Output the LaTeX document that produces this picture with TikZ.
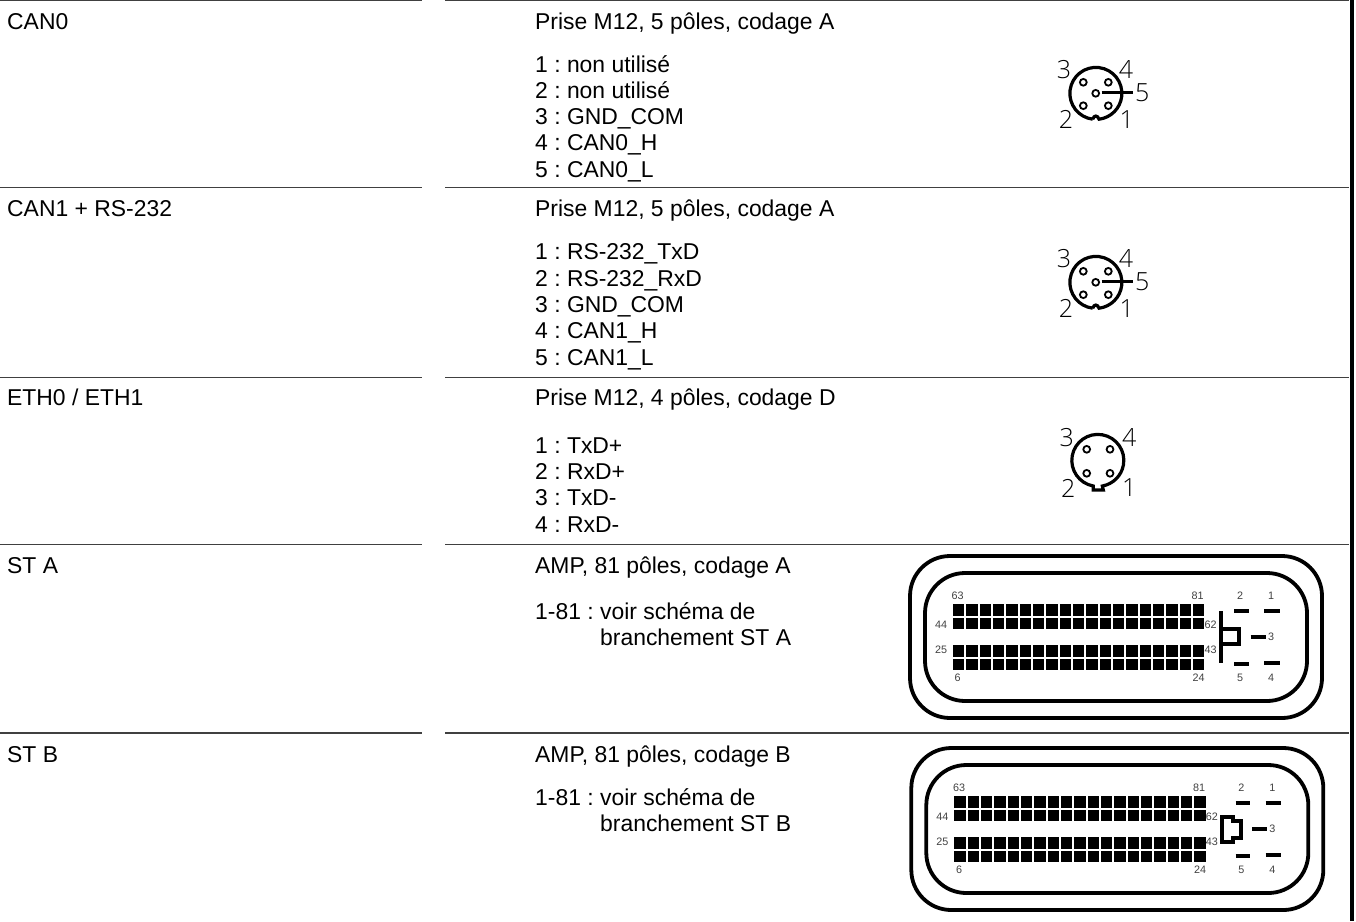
\documentclass[tikz,border=0pt]{standalone}
\usepackage{fontspec}
\setmainfont{Liberation Sans}
\newfontfamily\pinfont{Open Sans Light}
\frenchspacing
\definecolor{rulegray}{rgb}{0.25,0.25,0.25}
\tikzset{
	rowrule/.style={line width=1.3pt,color=rulegray},
	txt/.style={anchor=base west,inner sep=0pt,font=\fontsize{22.9}{25}\selectfont},
	pintxt/.style={inner sep=0pt,font=\pinfont\fontsize{25}{25}\selectfont},
	smalltxt/.style={inner sep=0pt,color=rulegray,font=\fontsize{10.8}{12}\selectfont},
	shell/.style={line width=3.8pt,rounded corners=40pt},
	blade/.style={line width=3.7pt},
	hole/.style={line width=1.8pt},
}
\begin{document}
\begin{tikzpicture}[line cap=butt,line join=miter,x=1pt,y=-1pt]
		\useasboundingbox (0,0) rectangle (1356,921);
		% table rules
		\foreach \y/\a in {0.2/r0,187.7/r1,377.7/r2,544.7/r3,733/r4}{
			\coordinate (\a l) at (0,\y);
			\coordinate (\a m) at (421.7,\y);
			\coordinate (\a n) at (445,\y);
			\coordinate (\a r) at (1348.5,\y);
			\draw [rowrule] (\a l) -- (\a m);
			\draw [rowrule] (\a n) -- (\a r);
		}
		\coordinate (bart) at (1351.8,0);
		\coordinate (barb) at (1351.8,921);
		\draw [line width=3.5pt] (bart) -- (barb);
		% left column
		\node [txt] (can0) at (7,29) {CAN0};
		\node [txt] (can1) at (7,216) {CAN1 + RS-232};
		\node [txt] (eth) at (7,405) {ETH0 / ETH1};
		\node [txt] (sta) at (7,573) {ST A};
		\node [txt] (stb) at (7,762) {ST B};
		% pin lists
		\node [txt] (can0t) at (535,29) {Prise M12, 5 pôles, codage A};
		\foreach \t [count=\i] in {1 : non utilisé,2 : non utilisé,3 : GND\_COM,4 : CAN0\_H,5 : CAN0\_L}
			\node [txt] (can0p\i) at (535,{45.7+26.3*\i}) {\t};
		\node [txt] (can1t) at (535,216) {Prise M12, 5 pôles, codage A};
		\foreach \t [count=\i] in {1 : RS-232\_TxD,2 : RS-232\_RxD,3 : GND\_COM,4 : CAN1\_H,5 : CAN1\_L}
			\node [txt] (can1p\i) at (535,{233.5+26.3*\i}) {\t};
		\node [txt] (etht) at (535,405) {Prise M12, 4 pôles, codage D};
		\foreach \t [count=\i] in {1 : TxD+,2 : RxD+,3 : TxD-,4 : RxD-}
			\node [txt] (ethp\i) at (535,{426.8+26.3*\i}) {\t};
		\node [txt] (stat) at (535,573) {AMP, 81 pôles, codage A};
		\node [txt] (stap) at (535,619) {1-81 : voir schéma de};
		\node [txt] (stap2) at (600,645) {branchement ST A};
		\node [txt] (stbt) at (535,762) {AMP, 81 pôles, codage B};
		\node [txt] (stbp) at (535,805) {1-81 : voir schéma de};
		\node [txt] (stbp2) at (600,831) {branchement ST B};
		% round M12 connectors, 5 poles
		\foreach \dy in {0,189}{
			\begin{scope}[yshift=-\dy pt]
				\draw [line width=3.2pt] (1092.7,119.2) arc (97:443:26) .. controls (1097.5,115) and (1094,115) .. (1092.7,119.2);
				\foreach \px/\py in {1083.3/82.3,1108.3/82.3,1083.3/105.7,1108.3/105.7,1095.7/93.3}
					\draw [hole] (\px,\py) circle (3.4);
				\draw [line width=2.2pt] (1101.7,92.5) -- (1132.7,92.5);
				\node [pintxt] at (1064,70) {3};
				\node [pintxt] at (1126,70) {4};
				\node [pintxt] at (1142.3,92.7) {5};
				\node [pintxt] at (1066,119.3) {2};
				\node [pintxt] at (1126.7,119.3) {1};
			\end{scope}
		}
		% round M12 connector, 4 poles
		\draw [line width=3.2pt] (1093.3,486) arc (100:440:26) -- (1103.3,490) -- (1093.3,490) -- cycle;
		\foreach \px/\py in {1086.7/449.3,1110/449.3,1086.7/473.3,1110/473.3}
			\draw [hole] (\px,\py) circle (3.4);
		\node [pintxt] at (1066.7,438) {3};
		\node [pintxt] at (1129.3,438) {4};
		\node [pintxt] at (1068.3,488) {2};
		\node [pintxt] at (1129.3,488) {1};
		% AMP connectors
		\foreach \dx/\dy in {0/0,1.3/192}{
			\begin{scope}[xshift=\dx pt,yshift=-\dy pt]
				\draw [shell] (910,556) rectangle (1322,718);
				\draw [shell] (925,573) rectangle (1307,701);
				\foreach \ry in {604.3,617.7,645.3,658.7}
					\foreach \c in {0,...,18}
						\fill ({953+13.33*\c},\ry) rectangle ++(11.3,11.4);
				\foreach \t/\px/\py in {63/957.7/596,81/1197.7/596,44/941/625,62/1210.5/625,25/941/650,43/1210.5/650,6/957.7/678,24/1198.7/678,2/1240/596,1/1271/596,3/1271/637,5/1240/678,4/1271/678}
					\node [smalltxt] at (\px,\py) {\t};
				\foreach \xa/\xb/\py in {1234.3/1249/611,1264.3/1280/611,1250.7/1266/636.7,1234.3/1249/663.7,1264.3/1280/663}
					\draw [blade] (\xa,\py) -- (\xb,\py);
			\end{scope}
		}
		\draw [blade] (1221.3,611) -- (1221.3,662.7);
		\draw [blade] (1221.3,629.3) -- (1239.3,629.3) -- (1239.3,644) -- (1221.3,644);
		\draw [blade] (1222,816.7) -- (1233.3,816.7) -- (1233.3,821) -- (1241,821) -- (1241,837.7) -- (1233.3,837.7) -- (1233.3,842.3) -- (1222,842.3) -- cycle;
	\end{tikzpicture}
\end{document}
